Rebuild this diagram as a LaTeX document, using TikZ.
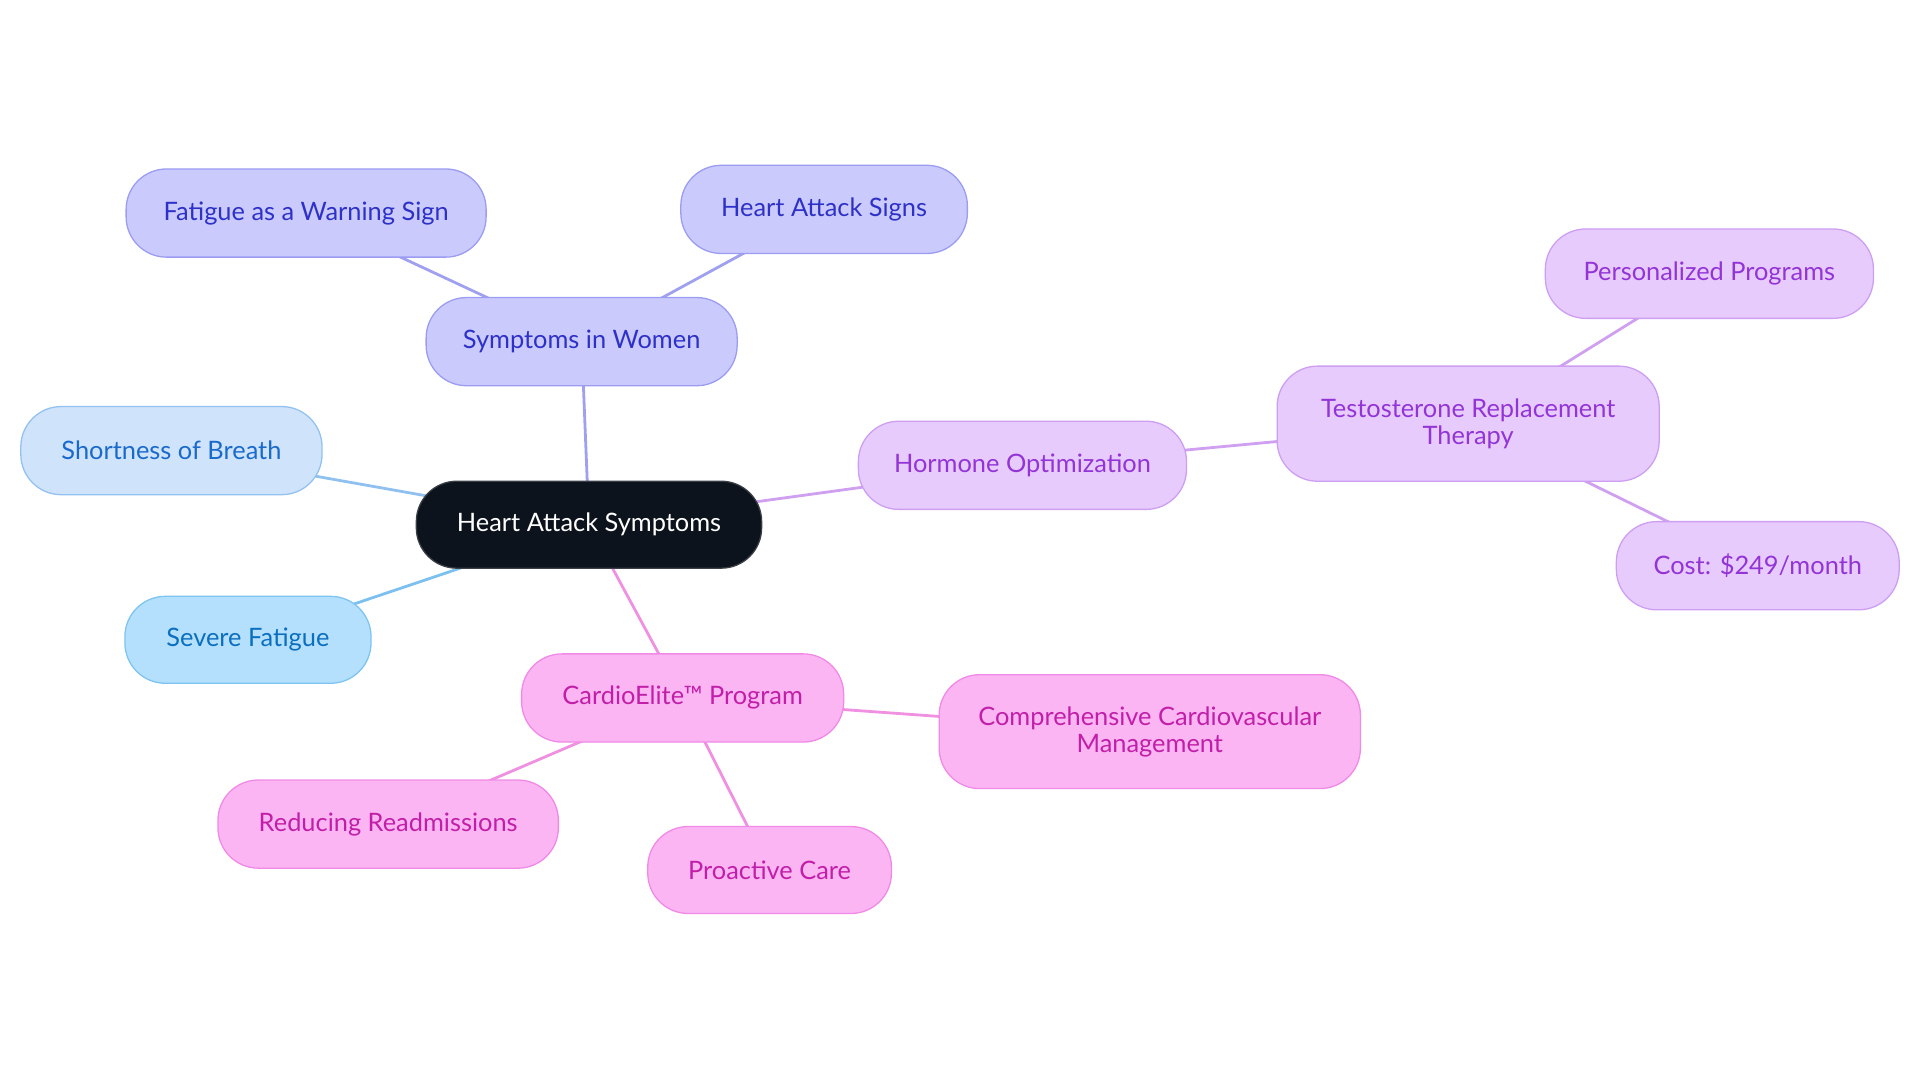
\documentclass[tikz,border=0pt]{standalone}
\usepackage{fontspec}
\setmainfont{Lato}
\usetikzlibrary{backgrounds}
\definecolor{cfill}{HTML}{0D131C}
\definecolor{cdraw}{HTML}{3A3F46}
\definecolor{vfill}{HTML}{CACAFC}
\definecolor{vdraw}{HTML}{9B9CF2}
\definecolor{vtext}{HTML}{2E31C8}
\definecolor{vline}{HTML}{9FA0EF}
\definecolor{bfill}{HTML}{CFE3FB}
\definecolor{bdraw}{HTML}{94C2F0}
\definecolor{btext}{HTML}{1A6ACB}
\definecolor{bline}{HTML}{90C0F0}
\definecolor{sfill}{HTML}{B5E0FD}
\definecolor{sdraw}{HTML}{7EC4F0}
\definecolor{stext}{HTML}{0B6FC0}
\definecolor{sline}{HTML}{7CC0F0}
\definecolor{pfill}{HTML}{E7CBFD}
\definecolor{pdraw}{HTML}{CD9EF1}
\definecolor{ptext}{HTML}{9334D6}
\definecolor{pline}{HTML}{D0A0F0}
\definecolor{mfill}{HTML}{FBB5F3}
\definecolor{mdraw}{HTML}{F08AE6}
\definecolor{mtext}{HTML}{C21FA8}
\definecolor{mline}{HTML}{F090E0}
\tikzset{
  box/.style={rounded corners=0.66cm, line width=0.6pt, inner sep=0pt, align=center,
    font=\fontsize{11.8pt}{12.5pt}\selectfont},
  sz/.style 2 args={minimum width=#1*0.02cm, minimum height=#2*0.02cm},
  central/.style={box, fill=cfill, draw=cdraw, text=white},
  violet/.style={box, fill=vfill, draw=vdraw, text=vtext},
  lblue/.style={box, fill=bfill, draw=bdraw, text=btext},
  sblue/.style={box, fill=sfill, draw=sdraw, text=stext},
  purp/.style={box, fill=pfill, draw=pdraw, text=ptext},
  pink/.style={box, fill=mfill, draw=mdraw, text=mtext},
  edge/.style={line width=1.3pt}
}
\begin{document}
\begin{tikzpicture}[x=0.02cm, y=-0.02cm]
\useasboundingbox (0,0) rectangle (1568,884.4);
\node[central, sz={282}{71}] (c) at (481,428.5) {Heart Attack Symptoms};
\node[violet, sz={254}{72}] (siw) at (475,279) {Symptoms in Women};
\node[violet, sz={294}{72}] (fat) at (250,174) {Fatigue as a Warning Sign};
\node[violet, sz={234}{72}] (has) at (673,171) {Heart Attack Signs};
\node[lblue, sz={246}{72}] (sob) at (140,368) {Shortness of Breath};
\node[sblue, sz={201}{71}] (sev) at (202.5,522.5) {Severe Fatigue};
\node[purp, sz={268}{72}] (hor) at (835,380) {Hormone Optimization};
\node[purp, sz={312}{94}] (trt) at (1199,346) {Testosterone Replacement\\Therapy};
\node[purp, sz={268}{73}] (per) at (1396,223.5) {Personalized Programs};
\node[purp, sz={231}{72}] (cost) at (1435.5,462) {Cost: \$249/month};
\node[pink, sz={263}{72}] (car) at (557.5,570) {CardioElite™ Program};
\node[pink, sz={344}{93}] (com) at (939,597.5) {Comprehensive Cardiovascular\\Management};
\node[pink, sz={278}{72}] (red) at (317,673) {Reducing Readmissions};
\node[pink, sz={199}{71}] (pro) at (628.5,710.5) {Proactive Care};
\begin{pgfonlayer}{background}
\draw[edge, vline] (c.center) -- (siw.center);
\draw[edge, vline] (siw.center) -- (fat.center);
\draw[edge, vline] (siw.center) -- (has.center);
\draw[edge, bline] (c.center) -- (sob.center);
\draw[edge, sline] (c.center) -- (sev.center);
\draw[edge, pline] (c.center) -- (hor.center);
\draw[edge, pline] (hor.center) -- (trt.center);
\draw[edge, pline] (trt.center) -- (per.center);
\draw[edge, pline] (trt.center) -- (cost.center);
\draw[edge, mline] (c.center) -- (car.center);
\draw[edge, mline] (car.center) -- (com.center);
\draw[edge, mline] (car.center) -- (red.center);
\draw[edge, mline] (car.center) -- (pro.center);
\end{pgfonlayer}
\end{tikzpicture}
\end{document}
